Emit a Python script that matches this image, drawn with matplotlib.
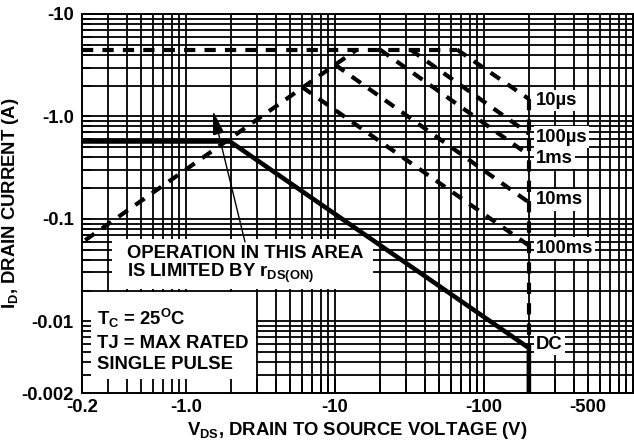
import numpy as np
import matplotlib
matplotlib.use('Agg')
import matplotlib.pyplot as plt
from matplotlib.patches import Rectangle
from matplotlib.ticker import FixedLocator, NullFormatter

plt.rcParams['font.family'] = ['Liberation Sans', 'DejaVu Sans']
plt.rcParams['font.weight'] = 'bold'
plt.rcParams['mathtext.fontset'] = 'custom'
plt.rcParams['mathtext.rm'] = 'Liberation Sans:bold'
plt.rcParams['mathtext.it'] = 'Liberation Sans:bold'
plt.rcParams['mathtext.bf'] = 'Liberation Sans:bold'
plt.rcParams['mathtext.default'] = 'bf'

# ---- data (magnitudes; labels shown negative as in datasheet) ----
x_ticks = [0.2, 1, 10, 100, 500]
x_tick_labels = ['-0.2', '-1.0', '-10', '-100', '-500']
y_ticks = [0.002, 0.01, 0.1, 1, 10]
y_tick_labels = ['-0.002', '-0.01', '-0.1', '-1.0', '-10']

idm_v = [0.2, 65.8]
idm_i = [4.5, 4.5]
rds_v = [0.21, 14.0]
rds_i = [0.062, 4.5]

pulse_labels = ['10\u00b5s', '100\u00b5s', '1ms', '10ms', '100ms']
pulse_v = [[65.8, 200], [32.0, 200], [20.0, 200], [10.0, 200], [6.0, 200]]
pulse_i = [[4.5, 1.48], [4.5, 0.68], [4.5, 0.42], [3.2, 0.145], [1.94, 0.055]]
pulse_label_i = [1.42, 0.63, 0.385, 0.153, 0.052]

dc_v = [0.2, 1.97, 200, 200]
dc_i = [0.57, 0.57, 0.0055, 0.002]
dc_label_i = 0.0059

bv_v = [200, 200]
bv_i = [1.48, 0.0055]

# ---- figure ----
W, H = 634, 444
fig = plt.figure(figsize=(W / 100, H / 100), dpi=100)
L, R, T, B = 82, 633, 14, 393
ax = fig.add_axes([L / W, (H - B) / H, (R - L) / W, (B - T) / H])
ax.set_xscale('log')
ax.set_yscale('log')
ax.set_xlim(0.2, 1000)
ax.set_ylim(0.002, 10)

# grid (drawn manually so masks can hide it while ticks stay on top)
gx = [k * 10.0 ** e for e in range(-1, 3) for k in range(1, 10)]
gx = [v for v in gx if 0.2 <= v <= 1000] + [1000]
gy = [k * 10.0 ** e for e in range(-3, 1) for k in range(1, 10)]
gy = [v for v in gy if 0.002 <= v <= 10] + [10]
grid_lw = 1.3
for v in gx:
    ax.axvline(v, color='black', lw=grid_lw, zorder=1)
for v in gy:
    ax.axhline(v, color='black', lw=grid_lw, zorder=1)

# white masks behind annotation text
ax.add_patch(Rectangle((0.32, 0.0205), 18 - 0.32, 0.064 - 0.0205,
                       facecolor='white', edgecolor='none', zorder=1.5))
ax.add_patch(Rectangle((0.2, 0.002), 2.95 - 0.2, 0.0195 - 0.002,
                       facecolor='white', edgecolor='none', zorder=1.5))

dash = (0, (2.7, 2.2))
lw_d = 3.0
ax.plot(idm_v, idm_i, color='black', lw=lw_d, ls=dash, dash_capstyle='butt', zorder=3)
ax.plot(rds_v, rds_i, color='black', lw=lw_d, ls=dash, dash_capstyle='butt', zorder=3)
for v, i in zip(pulse_v, pulse_i):
    ax.plot(v, i, color='black', lw=lw_d, ls=dash, dash_capstyle='butt', zorder=3)
ax.plot(bv_v, bv_i, color='black', lw=lw_d, ls=dash, dash_capstyle='butt', zorder=3)
ax.plot(dc_v, dc_i, color='black', lw=3.3, solid_joinstyle='miter', zorder=3.2)

fs = 13.3
box = dict(facecolor='white', edgecolor='none', pad=1.5)
for lab, li in zip(pulse_labels, pulse_label_i):
    ax.annotate(lab, xy=(200, li), xytext=(5, 0), textcoords='offset points',
                ha='left', va='center', fontsize=fs, fontweight='bold',
                bbox=box, zorder=4)
ax.annotate('DC', xy=(200, dc_label_i), xytext=(5, 0), textcoords='offset points',
            ha='left', va='center', fontsize=fs, fontweight='bold',
            bbox=box, zorder=4)

def axf(px, py):
    return ((px - L) / (R - L), (B - py) / (B - T))

ax.text(*axf(127, 258), 'OPERATION IN THIS AREA', transform=ax.transAxes,
        fontsize=fs, fontweight='bold', ha='left', va='baseline', zorder=4)
ax.text(*axf(127, 277), r'IS LIMITED BY r$_{DS(ON)}$', transform=ax.transAxes,
        fontsize=fs, fontweight='bold', ha='left', va='baseline', zorder=4)

ax.text(*axf(97, 325), r'T$_{C}$ = 25$^{O}$C', transform=ax.transAxes,
        fontsize=fs, fontweight='bold', ha='left', va='baseline', zorder=4)
ax.text(*axf(97, 348), 'TJ = MAX RATED', transform=ax.transAxes,
        fontsize=fs, fontweight='bold', ha='left', va='baseline', zorder=4)
ax.text(*axf(97, 369), 'SINGLE PULSE', transform=ax.transAxes,
        fontsize=fs, fontweight='bold', ha='left', va='baseline', zorder=4)

ax.annotate('', xy=axf(213, 111), xytext=axf(245, 242),
            xycoords='axes fraction', textcoords='axes fraction',
            arrowprops=dict(arrowstyle='-|>,head_length=0.9,head_width=0.22',
                            lw=1.0, color='black', shrinkA=0, shrinkB=0,
                            mutation_scale=16),
            zorder=4)

# ticks
ax.xaxis.set_major_locator(FixedLocator(x_ticks))
ax.xaxis.set_ticklabels(x_tick_labels)
ax.yaxis.set_major_locator(FixedLocator(y_ticks))
ax.yaxis.set_ticklabels(y_tick_labels)
ax.xaxis.set_minor_locator(FixedLocator(gx))
ax.yaxis.set_minor_locator(FixedLocator(gy))
ax.xaxis.set_minor_formatter(NullFormatter())
ax.yaxis.set_minor_formatter(NullFormatter())
ax.tick_params(axis='x', which='both', direction='in', length=10, width=grid_lw,
               pad=4, labelsize=fs)
ax.tick_params(axis='y', which='both', direction='in', length=6.5, width=grid_lw,
               pad=6, labelsize=fs)
for lab in ax.get_xticklabels() + ax.get_yticklabels():
    lab.set_fontweight('bold')
for s in ax.spines.values():
    s.set_linewidth(1.4)
    s.set_zorder(5)

ax.set_xlabel(r'V$_{DS}$, DRAIN TO SOURCE VOLTAGE (V)', fontsize=fs,
              fontweight='bold')
ax.xaxis.set_label_coords(0.5, -0.07)
ax.set_ylabel(r'I$_{D}$, DRAIN CURRENT (A)', fontsize=fs, fontweight='bold')
ax.yaxis.set_label_coords(-0.11, 0.5)

fig.savefig('out.png', dpi=100)
